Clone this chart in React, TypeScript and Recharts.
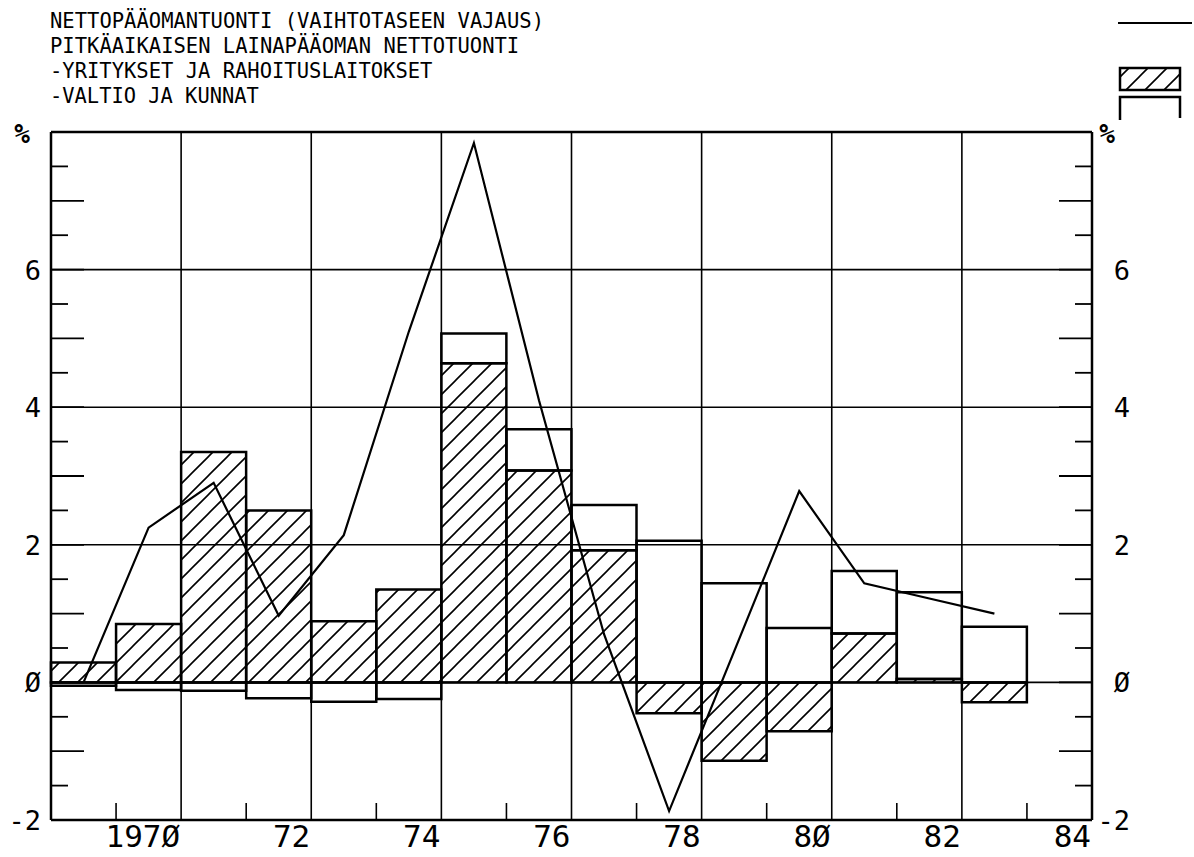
import React from "react";
import { Bar, ComposedChart, Line, ReferenceLine, XAxis, YAxis } from "recharts";

// vuodet (viimeinen tyhjä sarake 1984)
const years = [1969, 1970, 1971, 1972, 1973, 1974, 1975, 1976, 1977, 1978, 1979, 1980, 1981, 1982, 1983, 1984];
// nettopääomantuonti (vaihtotaseen vajaus), % BKT:sta
const nettoTuonti = [0.0, 2.25, 2.9, 0.97, 2.14, 5.1, 7.84, 4.1, 0.7, -1.87, 0.45, 2.78, 1.44, 1.22, 1.0, null];
// pitkäaikaisen lainapääoman nettotuonti
const yritykset = [0.29, 0.85, 3.35, 2.5, 0.89, 1.35, 4.64, 3.08, 1.92, -0.45, -1.14, -0.71, 0.71, 0.05, -0.29, null];
const valtio = [-0.05, -0.11, -0.12, -0.23, -0.28, -0.24, 0.43, 0.6, 0.66, 2.06, 1.44, 0.79, 0.91, 1.26, 0.81, null];

const boundaryTicks = [
  1969.5, 1970.5, 1971.5, 1972.5, 1973.5, 1974.5, 1975.5, 1976.5,
  1977.5, 1978.5, 1979.5, 1980.5, 1981.5, 1982.5, 1983.5, 1984.5
];
const labelYears = [1970, 1972, 1974, 1976, 1978, 1980, 1982, 1984];
const xLabels = ["197Ø", "72", "74", "76", "78", "8Ø", "82", "84"];
const gridYears = [1970.5, 1972.5, 1974.5, 1976.5, 1978.5, 1980.5, 1982.5];

const yTicks = [-2, -1.5, -1, -0.5, 0, 0.5, 1, 1.5, 2, 2.5, 3, 3.5, 4, 4.5, 5, 5.5, 6, 6.5, 7, 7.5, 8];
const yLabelValues = [-2, 0, 2, 4, 6];
const yLabels = ["-2", "Ø", "2", "4", "6"];
const gridValues = [0, 2, 4, 6];

const titleLines = [
  "NETTOPÄÄOMANTUONTI (VAIHTOTASEEN VAJAUS)",
  "PITKÄAIKAISEN LAINAPÄÄOMAN NETTOTUONTI",
  "-YRITYKSET JA RAHOITUSLAITOKSET",
  "-VALTIO JA KUNNAT"
];

const FONT = "'DejaVu Sans Mono', monospace";
const INK = "#000";

const data = years.map((year, i) => ({
  year,
  netto: nettoTuonti[i],
  yritykset: yritykset[i],
  valtio: valtio[i]
}));

function BottomTick(props: any) {
  const { x, y, payload } = props;
  const i = labelYears.indexOf(payload.value - 0.5);
  if (i >= 0) {
    return (
      <text x={x - 1} y={y + 27} textAnchor="end" fontFamily={FONT} fontSize={31} fill={INK}>
        {xLabels[i]}
      </text>
    );
  }
  return <line x1={x} x2={x} y1={y} y2={y - 17} stroke={INK} strokeWidth={1.6} />;
}

function LeftTick(props: any) {
  const { x, y, payload } = props;
  const v = payload.value;
  const i = yLabelValues.indexOf(v);
  const len = Number.isInteger(v) ? 33 : 17;
  return (
    <g>
      {v > -2 && v < 8 ? <line x1={x} x2={x + len} y1={y} y2={y} stroke={INK} strokeWidth={1.8} /> : null}
      {i >= 0 ? (
        <text x={x - 10} y={y + 10} textAnchor="end" fontFamily={FONT} fontSize={27} fill={INK}>
          {yLabels[i]}
        </text>
      ) : null}
    </g>
  );
}

function RightTick(props: any) {
  const { x, y, payload } = props;
  const v = payload.value;
  const i = yLabelValues.indexOf(v);
  const len = Number.isInteger(v) ? 33 : 17;
  return (
    <g>
      {v > -2 && v < 8 ? <line x1={x} x2={x - len} y1={y} y2={y} stroke={INK} strokeWidth={1.8} /> : null}
      {i >= 0 ? (
        <text x={x + 38} y={y + 10} textAnchor="end" fontFamily={FONT} fontSize={27} fill={INK}>
          {yLabels[i]}
        </text>
      ) : null}
    </g>
  );
}

function Header() {
  return (
    <svg
      width={1194}
      height={160}
      style={{ position: "absolute", left: 0, top: 0, pointerEvents: "none" }}
    >
      <defs>
        <pattern id="hatchLegend" patternUnits="userSpaceOnUse" width={19} height={19}>
          <path d="M-2,21 L21,-2 M-2,2 L2,-2 M17,21 L21,17" stroke={INK} strokeWidth={1.6} />
        </pattern>
      </defs>
      {titleLines.map((line, i) => (
        <text
          key={line}
          x={50}
          y={28 + i * 25}
          fontFamily={FONT}
          fontSize={21}
          fill={INK}
          textLength={line.length * 12.4 - 2}
          lengthAdjust="spacingAndGlyphs"
        >
          {line}
        </text>
      ))}
      <text x={22} y={143} textAnchor="middle" fontFamily={FONT} fontSize={26} fontWeight="bold" fill={INK}>%</text>
      <text x={1107} y={143} textAnchor="middle" fontFamily={FONT} fontSize={26} fontWeight="bold" fill={INK}>%</text>
      <line x1={1118} x2={1192} y1={23} y2={23} stroke={INK} strokeWidth={2} />
      <rect x={1120} y={68} width={60} height={22} fill="url(#hatchLegend)" stroke={INK} strokeWidth={2.5} />
      <path d="M1120,120 L1120,97 L1180,97 L1180,118" fill="none" stroke={INK} strokeWidth={2.5} />
    </svg>
  );
}

export default function App() {
  return (
    <div style={{ position: "absolute", left: 0, top: 0, width: 1194, height: 857, background: "#fff" }}>
      <ComposedChart
        width={1194}
        height={857}
        data={data}
        stackOffset="sign"
        barCategoryGap={0}
        barGap={0}
        margin={{ top: 132, right: 0, bottom: 0, left: 0 }}
      >
        <defs>
          <pattern id="hatch" patternUnits="userSpaceOnUse" width={19} height={19}>
            <path d="M-2,21 L21,-2 M-2,2 L2,-2 M17,21 L21,17" stroke={INK} strokeWidth={1.6} />
          </pattern>
        </defs>
        <XAxis xAxisId="cat" dataKey="year" type="category" orientation="top" height={0} hide />
        <XAxis
          xAxisId="num"
          dataKey="year"
          type="number"
          domain={[1968.5, 1984.5]}
          allowDataOverflow
          ticks={boundaryTicks}
          interval={0}
          tick={<BottomTick />}
          tickSize={0}
          tickMargin={0}
          tickLine={false}
          height={37}
          axisLine={{ stroke: INK, strokeWidth: 2.5 }}
        />
        <YAxis
          yAxisId="left"
          orientation="left"
          type="number"
          domain={[-2, 8]}
          allowDataOverflow
          ticks={yTicks}
          interval={0}
          tick={<LeftTick />}
          tickSize={0}
          tickMargin={0}
          tickLine={false}
          width={51}
          axisLine={{ stroke: INK, strokeWidth: 2.5 }}
        />
        <YAxis
          yAxisId="right"
          orientation="right"
          type="number"
          domain={[-2, 8]}
          allowDataOverflow
          ticks={yTicks}
          interval={0}
          tick={<RightTick />}
          tickSize={0}
          tickMargin={0}
          tickLine={false}
          width={102}
          axisLine={{ stroke: INK, strokeWidth: 2.5 }}
        />
        {gridValues.map((v) => (
          <ReferenceLine key={`h${v}`} xAxisId="num" yAxisId="left" y={v} stroke={INK} strokeWidth={1.6} />
        ))}
        <ReferenceLine xAxisId="num" yAxisId="left" y={8} stroke={INK} strokeWidth={2.5} />
        {gridYears.map((v) => (
          <ReferenceLine key={`v${v}`} xAxisId="num" yAxisId="left" x={v} stroke={INK} strokeWidth={1.6} />
        ))}
        <Bar
          xAxisId="cat"
          yAxisId="left"
          dataKey="yritykset"
          stackId="laina"
          fill="url(#hatch)"
          stroke={INK}
          strokeWidth={2.5}
          isAnimationActive={false}
        />
        <Bar
          xAxisId="cat"
          yAxisId="left"
          dataKey="valtio"
          stackId="laina"
          fill="none"
          stroke={INK}
          strokeWidth={2.5}
          isAnimationActive={false}
        />
        <Line
          xAxisId="cat"
          yAxisId="left"
          dataKey="netto"
          type="linear"
          stroke={INK}
          strokeWidth={2.2}
          dot={false}
          activeDot={false}
          isAnimationActive={false}
        />
      </ComposedChart>
      <Header />
    </div>
  );
}
